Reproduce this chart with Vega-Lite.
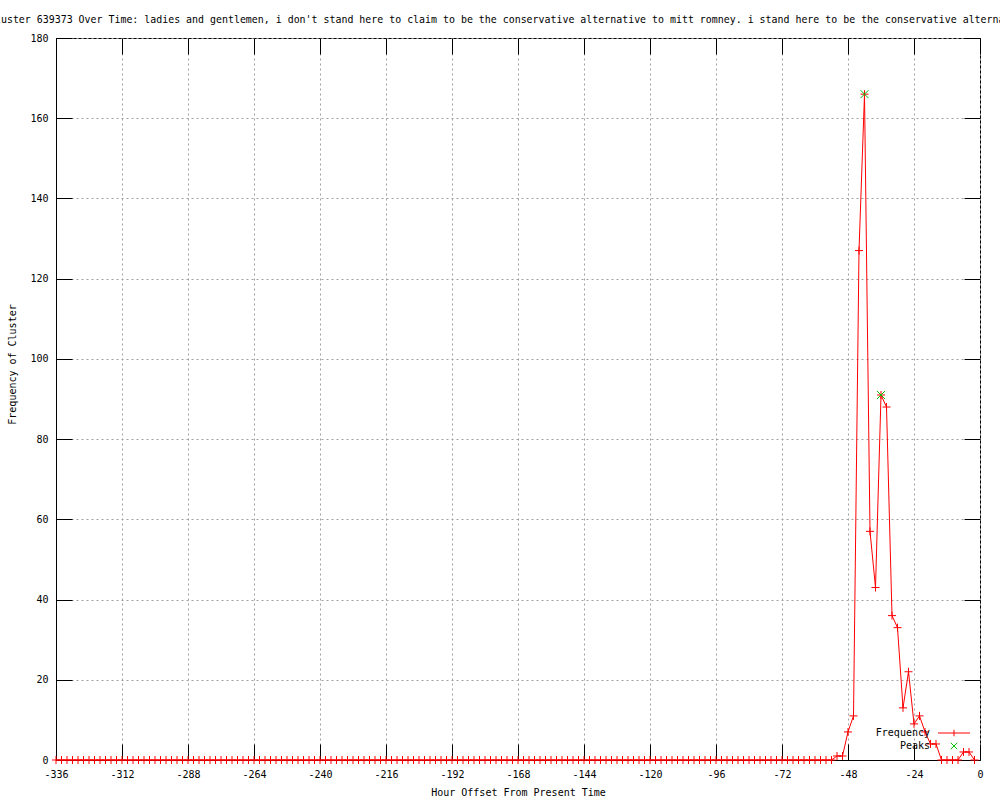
{
  "$schema": "https://vega.github.io/schema/vega-lite/v6.json",
  "autosize": "none",
  "width": 924,
  "height": 722,
  "padding": {"left": 56, "top": 38, "right": 20, "bottom": 40},
  "background": "white",
  "title": {
    "text": "Cluster 639373 Over Time: ladies and gentlemen, i don't stand here to claim to be the conservative alternative to mitt romney. i stand here to be the conservative alternative",
    "anchor": "start",
    "frame": "group",
    "dx": -67,
    "offset": 8,
    "font": "DejaVu Sans Mono",
    "fontSize": 9.93,
    "fontWeight": "normal",
    "color": "black"
  },
  "config": {
    "view": {"stroke": "black", "strokeWidth": 1},
    "axis": {
      "labelFont": "DejaVu Sans Mono",
      "labelFontSize": 10,
      "labelColor": "black",
      "titleFont": "DejaVu Sans Mono",
      "titleFontSize": 10,
      "titleFontWeight": "normal",
      "titleColor": "black",
      "domainColor": "black",
      "tickColor": "black",
      "tickWidth": 1,
      "gridColor": "#a0a0a0",
      "gridDash": [2, 3],
      "gridWidth": 1,
      "gridOpacity": 1
    },
    "legend": {
      "labelFont": "DejaVu Sans Mono",
      "labelFontSize": 10,
      "labelColor": "black"
    }
  },
  "datasets": {
    "freq": [
      {"h": -336, "v": 0}, {"h": -334, "v": 0}, {"h": -332, "v": 0}, {"h": -330, "v": 0}, {"h": -328, "v": 0}, {"h": -326, "v": 0}, {"h": -324, "v": 0}, {"h": -322, "v": 0}, {"h": -320, "v": 0}, {"h": -318, "v": 0}, {"h": -316, "v": 0}, {"h": -314, "v": 0},
      {"h": -312, "v": 0}, {"h": -310, "v": 0}, {"h": -308, "v": 0}, {"h": -306, "v": 0}, {"h": -304, "v": 0}, {"h": -302, "v": 0}, {"h": -300, "v": 0}, {"h": -298, "v": 0}, {"h": -296, "v": 0}, {"h": -294, "v": 0}, {"h": -292, "v": 0}, {"h": -290, "v": 0},
      {"h": -288, "v": 0}, {"h": -286, "v": 0}, {"h": -284, "v": 0}, {"h": -282, "v": 0}, {"h": -280, "v": 0}, {"h": -278, "v": 0}, {"h": -276, "v": 0}, {"h": -274, "v": 0}, {"h": -272, "v": 0}, {"h": -270, "v": 0}, {"h": -268, "v": 0}, {"h": -266, "v": 0},
      {"h": -264, "v": 0}, {"h": -262, "v": 0}, {"h": -260, "v": 0}, {"h": -258, "v": 0}, {"h": -256, "v": 0}, {"h": -254, "v": 0}, {"h": -252, "v": 0}, {"h": -250, "v": 0}, {"h": -248, "v": 0}, {"h": -246, "v": 0}, {"h": -244, "v": 0}, {"h": -242, "v": 0},
      {"h": -240, "v": 0}, {"h": -238, "v": 0}, {"h": -236, "v": 0}, {"h": -234, "v": 0}, {"h": -232, "v": 0}, {"h": -230, "v": 0}, {"h": -228, "v": 0}, {"h": -226, "v": 0}, {"h": -224, "v": 0}, {"h": -222, "v": 0}, {"h": -220, "v": 0}, {"h": -218, "v": 0},
      {"h": -216, "v": 0}, {"h": -214, "v": 0}, {"h": -212, "v": 0}, {"h": -210, "v": 0}, {"h": -208, "v": 0}, {"h": -206, "v": 0}, {"h": -204, "v": 0}, {"h": -202, "v": 0}, {"h": -200, "v": 0}, {"h": -198, "v": 0}, {"h": -196, "v": 0}, {"h": -194, "v": 0},
      {"h": -192, "v": 0}, {"h": -190, "v": 0}, {"h": -188, "v": 0}, {"h": -186, "v": 0}, {"h": -184, "v": 0}, {"h": -182, "v": 0}, {"h": -180, "v": 0}, {"h": -178, "v": 0}, {"h": -176, "v": 0}, {"h": -174, "v": 0}, {"h": -172, "v": 0}, {"h": -170, "v": 0},
      {"h": -168, "v": 0}, {"h": -166, "v": 0}, {"h": -164, "v": 0}, {"h": -162, "v": 0}, {"h": -160, "v": 0}, {"h": -158, "v": 0}, {"h": -156, "v": 0}, {"h": -154, "v": 0}, {"h": -152, "v": 0}, {"h": -150, "v": 0}, {"h": -148, "v": 0}, {"h": -146, "v": 0},
      {"h": -144, "v": 0}, {"h": -142, "v": 0}, {"h": -140, "v": 0}, {"h": -138, "v": 0}, {"h": -136, "v": 0}, {"h": -134, "v": 0}, {"h": -132, "v": 0}, {"h": -130, "v": 0}, {"h": -128, "v": 0}, {"h": -126, "v": 0}, {"h": -124, "v": 0}, {"h": -122, "v": 0},
      {"h": -120, "v": 0}, {"h": -118, "v": 0}, {"h": -116, "v": 0}, {"h": -114, "v": 0}, {"h": -112, "v": 0}, {"h": -110, "v": 0}, {"h": -108, "v": 0}, {"h": -106, "v": 0}, {"h": -104, "v": 0}, {"h": -102, "v": 0}, {"h": -100, "v": 0}, {"h": -98, "v": 0},
      {"h": -96, "v": 0}, {"h": -94, "v": 0}, {"h": -92, "v": 0}, {"h": -90, "v": 0}, {"h": -88, "v": 0}, {"h": -86, "v": 0}, {"h": -84, "v": 0}, {"h": -82, "v": 0}, {"h": -80, "v": 0}, {"h": -78, "v": 0}, {"h": -76, "v": 0}, {"h": -74, "v": 0},
      {"h": -72, "v": 0}, {"h": -70, "v": 0}, {"h": -68, "v": 0}, {"h": -66, "v": 0}, {"h": -64, "v": 0}, {"h": -62, "v": 0}, {"h": -60, "v": 0}, {"h": -58, "v": 0}, {"h": -56, "v": 0}, {"h": -54, "v": 0},
      {"h": -52, "v": 1}, {"h": -50, "v": 1}, {"h": -48, "v": 7}, {"h": -46, "v": 11}, {"h": -44, "v": 127}, {"h": -42, "v": 166}, {"h": -40, "v": 57}, {"h": -38, "v": 43}, {"h": -36, "v": 91}, {"h": -34, "v": 88}, {"h": -32, "v": 36}, {"h": -30, "v": 33},
      {"h": -28, "v": 13}, {"h": -26, "v": 22}, {"h": -24, "v": 9}, {"h": -22, "v": 11}, {"h": -20, "v": 7}, {"h": -18, "v": 4}, {"h": -16, "v": 4}, {"h": -14, "v": 0}, {"h": -12, "v": 0}, {"h": -10, "v": 0}, {"h": -8, "v": 0}, {"h": -6, "v": 2},
      {"h": -4, "v": 2}, {"h": -2, "v": 0}
    ],
    "peaks": [
      {"h": -42, "v": 166},
      {"h": -36, "v": 91}
    ]
  },
  "layer": [
    {
      "data": {"name": "freq"},
      "mark": {"type": "line", "strokeWidth": 1},
      "encoding": {
        "x": {
          "field": "h", "type": "quantitative",
          "scale": {"domain": [-336, 0], "nice": false, "zero": false},
          "axis": {
            "orient": "bottom",
            "values": [-336, -312, -288, -264, -240, -216, -192, -168, -144, -120, -96, -72, -48, -24, 0],
            "labelExpr": "'' + datum.value",
            "title": "Hour Offset From Present Time",
            "grid": true,
            "ticks": true,
            "tickSize": -16,
            "labelPadding": 25,
            "titlePadding": 8,
            "labelFlush": false,
            "labelOverlap": false
          }
        },
        "y": {
          "field": "v", "type": "quantitative",
          "scale": {"domain": [0, 180], "nice": false},
          "axis": {
            "orient": "left",
            "values": [0, 20, 40, 60, 80, 100, 120, 140, 160, 180],
            "title": "Frequency of Cluster",
            "grid": true,
            "ticks": true,
            "tickSize": -16,
            "labelPadding": 24,
            "titlePadding": 12,
            "titleY": 326,
            "labelOverlap": false
          }
        },
        "color": {
          "datum": "Frequency",
          "scale": {"domain": ["Frequency", "Peaks"], "range": ["#ff0000", "#00c000"]},
          "legend": {
            "orient": "bottom-right",
            "title": null,
            "labelAlign": "right",
            "labelOffset": -29,
            "symbolSize": 16,
            "symbolStrokeWidth": 1,
            "rowPadding": 1,
            "offset": 8,
            "encode": {
              "symbols": {
                "update": {
                  "shape": {"signal": "datum.value === 'Frequency' ? 'M-8,0L8,0M0,-1.6L0,1.6' : 'M-1.6,-1.6L1.6,1.6M1.6,-1.6L-1.6,1.6'"},
                  "fill": {"value": "transparent"},
                  "strokeWidth": {"value": 1}
                }
              }
            }
          }
        }
      }
    },
    {
      "data": {"name": "freq"},
      "mark": {"type": "point", "shape": "M-1,0L1,0M0,-1L0,1", "filled": false, "size": 64, "strokeWidth": 1, "opacity": 1},
      "encoding": {
        "x": {"field": "h", "type": "quantitative", "axis": null},
        "y": {"field": "v", "type": "quantitative", "axis": null},
        "color": {"datum": "Frequency"}
      }
    },
    {
      "data": {"name": "peaks"},
      "mark": {"type": "point", "shape": "M-1,-1L1,1M1,-1L-1,1", "filled": false, "size": 64, "strokeWidth": 1, "opacity": 1},
      "encoding": {
        "x": {
          "field": "h", "type": "quantitative",
          "axis": {
            "orient": "top",
            "values": [-336, -312, -288, -264, -240, -216, -192, -168, -144, -120, -96, -72, -48, -24, 0],
            "labels": false, "domain": false, "grid": false, "title": null, "ticks": true, "tickSize": -16
          }
        },
        "y": {
          "field": "v", "type": "quantitative",
          "axis": {
            "orient": "right",
            "values": [0, 20, 40, 60, 80, 100, 120, 140, 160, 180],
            "labels": false, "domain": false, "grid": false, "title": null, "ticks": true, "tickSize": -16
          }
        },
        "color": {"datum": "Peaks"}
      }
    }
  ],
  "resolve": {"axis": {"x": "independent", "y": "independent"}}
}
